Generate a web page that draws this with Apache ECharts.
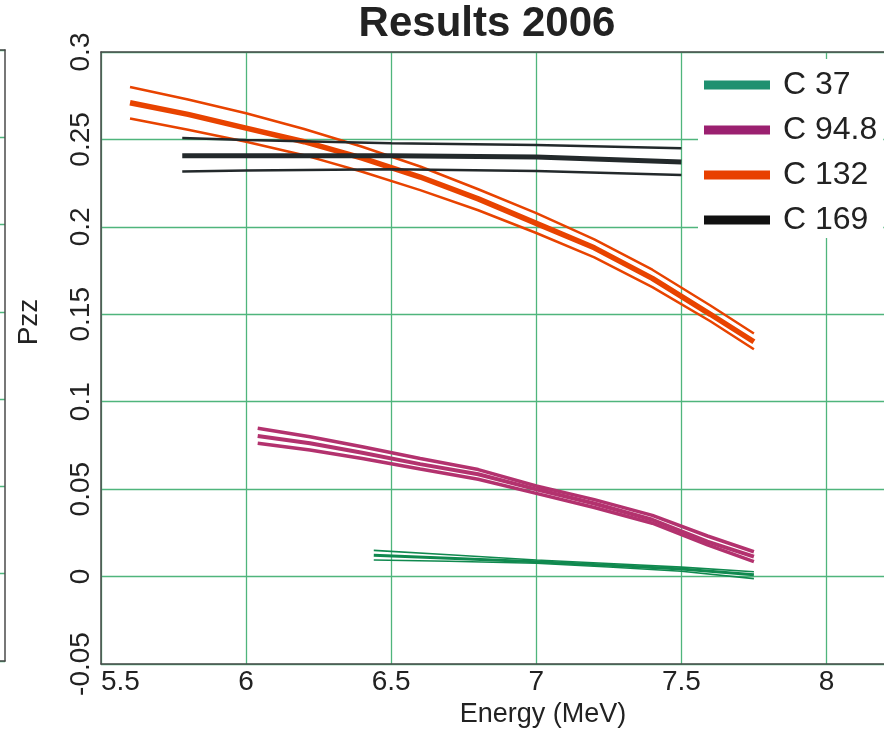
<!DOCTYPE html>
<html>
<head>
<meta charset="utf-8">
<script src="https://cdn.jsdelivr.net/npm/echarts@6/dist/echarts.min.js"></script>
<style>
html, body { margin: 0; padding: 0; background: #fff; }
#chart { width: 884px; height: 729px; }
</style>
</head>
<body>
<div id="chart"></div>
<script>
// 坐标轴刻度
const energyTicks = [5.5, 6, 6.5, 7, 7.5, 8];
const pzzTicks = [-0.05, 0, 0.05, 0.1, 0.15, 0.2, 0.25, 0.3];

// C 37
const c37Energy = [6.44, 6.7, 7.0, 7.25, 7.5, 7.75];
const c37Mid = [0.0122, 0.0105, 0.0085, 0.0065, 0.0043, 0.0010];
const c37High = [0.0150, 0.0125, 0.0095, 0.0075, 0.0054, 0.0028];
const c37Low = [0.0095, 0.0088, 0.0076, 0.0055, 0.0030, -0.0012];

// C 94.8
const c95Energy = [6.04, 6.22, 6.4, 6.6, 6.8, 7.0, 7.2, 7.4, 7.59, 7.75];
const c95Mid = [0.0804, 0.0762, 0.0708, 0.0643, 0.0585, 0.0499, 0.0418, 0.0325, 0.0200, 0.0114];
const c95High = [0.0848, 0.0800, 0.0742, 0.0675, 0.0612, 0.0518, 0.0440, 0.0350, 0.0232, 0.0142];
const c95Low = [0.0762, 0.0724, 0.0675, 0.0615, 0.0557, 0.0476, 0.0395, 0.0305, 0.0181, 0.0085];

// C 132
const c132Energy = [5.6, 5.8, 6.0, 6.2, 6.4, 6.6, 6.8, 7.0, 7.2, 7.4, 7.6, 7.75];
const c132Mid = [0.2710, 0.2643, 0.2565, 0.2487, 0.2393, 0.2285, 0.2160, 0.2020, 0.1880, 0.1705, 0.1500, 0.1343];
const c132High = [0.2800, 0.2728, 0.2650, 0.2560, 0.2458, 0.2345, 0.2215, 0.2078, 0.1928, 0.1755, 0.1550, 0.1390];
const c132Low = [0.2620, 0.2555, 0.2487, 0.2410, 0.2315, 0.2210, 0.2095, 0.1965, 0.1826, 0.1655, 0.1460, 0.1300];

// C 169
const c169Energy = [5.78, 6.0, 6.5, 7.0, 7.5];
const c169Mid = [0.2407, 0.2407, 0.2407, 0.2400, 0.2371];
const c169High = [0.2508, 0.2497, 0.2478, 0.2468, 0.2450];
const c169Low = [0.2316, 0.2322, 0.2329, 0.2320, 0.2297];

const legendNames = ['C 37', 'C 94.8', 'C 132', 'C 169'];
const lineColors = ['#10894f', '#b3326e', '#e84300', '#23292b'];
const legendColors = ['#1f9070', '#9b2070', '#e84000', '#111111'];

const FONT = '"Liberation Sans", Arial, sans-serif';

// 组装一条线
function makeLine(name, xs, ys, color, width) {
    return {
        name: name,
        type: 'line',
        xAxisIndex: 0,
        yAxisIndex: 0,
        symbol: 'none',
        silent: true,
        lineStyle: { color: color, width: width },
        itemStyle: { color: color },
        data: xs.map(function(x, i) { return [x, ys[i]]; })
    };
}

// 每组三条: 上限、中值、下限
function makeBand(idx, xs, high, mid, low, wOuter, wMid) {
    const name = legendNames[idx];
    const color = lineColors[idx];
    return [
        makeLine(name + ' high', xs, high, color, wOuter),
        makeLine(name, xs, mid, color, wMid),
        makeLine(name + ' low', xs, low, color, wOuter)
    ];
}

const series = [].concat(
    makeBand(0, c37Energy, c37High, c37Mid, c37Low, 1.6, 3),
    makeBand(1, c95Energy, c95High, c95Mid, c95Low, 3.5, 4),
    makeBand(2, c132Energy, c132High, c132Mid, c132Low, 2.5, 5.5),
    makeBand(3, c169Energy, c169High, c169Mid, c169Low, 2.5, 5)
);

const gridGreen = '#4fb57c';
const frameColor = '#4a4a4a';

// 画框用的空坐标轴
function frameAxis(gridIndex, position) {
    return {
        gridIndex: gridIndex, type: 'value', position: position, min: 0, max: 1,
        axisLine: { show: true, onZero: false, lineStyle: { color: frameColor, width: 1.5 } },
        axisTick: { show: false }, axisLabel: { show: false }, splitLine: { show: false }
    };
}

const option = {
    animation: false,
    backgroundColor: '#fff',
    title: {
        text: 'Results 2006',
        left: 487,
        textAlign: 'center',
        top: 3,
        padding: 0,
        textStyle: { fontSize: 42, fontWeight: 'bold', color: '#222', fontFamily: FONT }
    },
    legend: {
        data: legendNames.map(function(n, i) {
            return { name: n, itemStyle: { color: legendColors[i] } };
        }),
        orient: 'vertical',
        left: 698,
        top: 59,
        padding: [10, 6, 2, 6],
        itemGap: 13,
        itemWidth: 66,
        itemHeight: 9,
        icon: 'rect',
        backgroundColor: '#fff',
        selectedMode: false,
        textStyle: { fontSize: 32, color: '#222', fontFamily: FONT, padding: [0, 0, 0, 8] }
    },
    grid: [
        // 主图, 右边界在画面外
        { left: 101, width: 798, top: 52, bottom: 65, outerBoundsMode: 'none' },
        // 左侧被截掉的另一幅图
        { left: -100, width: 105, top: 50, bottom: 68, outerBoundsMode: 'none' }
    ],
    xAxis: [
        {
            gridIndex: 0,
            type: 'value',
            min: energyTicks[0],
            max: 8.25,
            interval: 0.5,
            name: 'Energy (MeV)',
            nameLocation: 'middle',
            nameGap: 26,
            nameTextStyle: { fontSize: 27, color: '#222', fontFamily: FONT, padding: [0, 0, 0, 86] },
            axisLine: { show: true, onZero: false, lineStyle: { color: frameColor, width: 1.5 } },
            axisTick: { show: false },
            axisLabel: {
                fontSize: 28, color: '#222', fontFamily: FONT, margin: 4,
                showMaxLabel: false, alignMinLabel: 'left'
            },
            splitLine: { show: true, lineStyle: { color: gridGreen, width: 1.3 } }
        },
        frameAxis(0, 'top'),
        frameAxis(1, 'bottom'),
        frameAxis(1, 'top')
    ],
    yAxis: [
        {
            gridIndex: 0,
            type: 'value',
            min: pzzTicks[0],
            max: pzzTicks[pzzTicks.length - 1],
            interval: 0.05,
            name: 'Pzz',
            nameLocation: 'middle',
            nameRotate: 90,
            nameGap: 58,
            nameTextStyle: { fontSize: 28, color: '#222', fontFamily: FONT, padding: [0, 0, 0, 72] },
            axisLine: { show: true, onZero: false, lineStyle: { color: frameColor, width: 1.5 } },
            axisTick: { show: false },
            axisLabel: { rotate: 90, fontSize: 28, color: '#222', fontFamily: FONT, margin: 6 },
            splitLine: { show: true, lineStyle: { color: gridGreen, width: 1.3 } }
        },
        {
            gridIndex: 1, type: 'value', position: 'right', min: -0.05, max: 0.3, interval: 0.05,
            axisLine: { show: true, onZero: false, lineStyle: { color: frameColor, width: 1.5 } },
            axisTick: { show: false },
            axisLabel: { show: false },
            splitLine: { show: true, lineStyle: { color: gridGreen, width: 1.3 } }
        }
    ],
    series: series
};

const myChart = echarts.init(document.getElementById('chart'));
myChart.setOption(option);
</script>
</body>
</html>
